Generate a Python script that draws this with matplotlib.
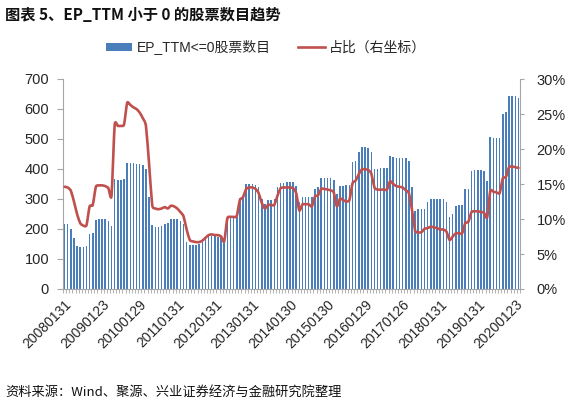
import matplotlib
matplotlib.use('Agg')
import matplotlib.pyplot as plt
from matplotlib.patches import Patch
from matplotlib.lines import Line2D
from matplotlib.path import Path
from matplotlib.patches import PathPatch
from matplotlib.ticker import FuncFormatter, MultipleLocator, FixedLocator
import matplotlib.transforms as mtransforms
import numpy as np

plt.rcParams['font.family'] = ['Liberation Sans', 'Noto Sans CJK SC', 'DejaVu Sans']

title = '图表 5、EP_TTM 小于 0 的股票数目趋势'
source = '资料来源：Wind、聚源、兴业证券经济与金融研究院整理'
bar_label = 'EP_TTM<=0股票数目'
line_label = '占比（右坐标）'

tick_labels = ['20080131', '20090123', '20100129', '20110131', '20120131',
               '20130131', '20140130', '20150130', '20160129', '20170126',
               '20180131', '20190131', '20200123']

counts = [217, 217, 200, 170, 142, 140, 140, 143, 182, 186, 231, 232,
          232, 232, 228, 210, 366, 363, 363, 368, 420, 420, 419, 418,
          417, 412, 399, 308, 213, 208, 208, 211, 217, 219, 232, 234,
          234, 228, 217, 158, 147, 147, 147, 150, 158, 169, 177, 177,
          177, 174, 172, 158, 232, 239, 239, 241, 305, 310, 349, 350,
          350, 348, 340, 300, 285, 297, 297, 300, 340, 352, 355, 358,
          358, 356, 345, 290, 306, 306, 306, 306, 335, 341, 369, 370,
          370, 369, 365, 318, 344, 345, 346, 347, 424, 428, 458, 473,
          473, 470, 456, 400, 401, 402, 402, 404, 445, 439, 438, 438,
          438, 437, 427, 341, 260, 266, 266, 266, 289, 300, 301, 301,
          301, 300, 289, 241, 249, 277, 279, 279, 333, 333, 395, 397,
          397, 396, 392, 359, 506, 505, 505, 503, 582, 591, 644, 643,
          643, 638]

ratio = [14.6, 14.5, 14.05, 12.5, 10.7, 9.4, 9.05, 9.1, 11.8, 12.0, 14.6, 14.8,
         14.8, 14.7, 14.4, 13.3, 23.4, 23.3, 23.3, 23.5, 26.6, 26.3, 25.95, 25.7,
         25.2, 24.4, 23.3, 17.9, 12.0, 11.5, 11.4, 11.5, 11.7, 11.5, 11.9, 11.8,
         11.5, 11.0, 10.4, 8.5, 7.0, 6.8, 6.7, 6.7, 6.9, 7.3, 7.7, 7.8,
         7.7, 7.7, 7.5, 6.8, 10.1, 10.3, 10.3, 10.4, 12.7, 13.1, 14.3, 14.5,
         14.5, 14.3, 13.7, 12.3, 11.5, 12.0, 12.0, 12.0, 13.3, 14.4, 14.5, 14.5,
         14.5, 14.4, 13.7, 11.2, 12.1, 12.1, 12.1, 11.8, 13.2, 13.4, 14.3, 14.3,
         14.2, 14.1, 13.8, 11.8, 12.9, 12.7, 12.5, 12.7, 15.1, 15.5, 16.4, 17.1,
         17.1, 17.0, 16.5, 14.5, 14.2, 14.2, 14.2, 14.2, 15.4, 15.0, 14.7, 14.6,
         14.5, 14.1, 13.7, 11.3, 8.3, 8.1, 8.1, 8.6, 8.7, 8.9, 8.8, 8.7,
         8.5, 8.5, 8.2, 7.0, 7.5, 7.95, 7.95, 7.95, 9.4, 9.6, 11.0, 11.1,
         11.1, 11.0, 10.9, 10.2, 14.0, 13.9, 13.8, 13.7, 15.8, 16.0, 17.4, 17.5,
         17.4, 17.3]

BAR_C = '#4a7ebb'
LINE_C = '#c0504d'
AX_C = '#a6a6a6'
TXT_C = '#262626'

N = len(counts)
x = np.arange(N)

W, H = 572, 407
fig = plt.figure(figsize=(W / 100, H / 100), dpi=100)
ax = fig.add_axes([63 / W, 1 - 289 / H, 457 / W, 210 / H])
ax.bar(x, counts, width=0.5, color=BAR_C, linewidth=0, zorder=2)
ax.set_xlim(-0.5, N - 0.5)
ax.set_ylim(0, 700)
ax.yaxis.set_major_locator(MultipleLocator(100))

ax2 = ax.twinx()
ax2.set_ylim(0, 30)

# smoothed line (Excel-style): cubic Bezier segments through the data points
px = x.astype(float)
py = np.asarray(ratio, dtype=float)
k = 0.1
verts = [(px[0], py[0])]
codes = [Path.MOVETO]
for j in range(N - 1):
    p0x, p0y = (px[j - 1], py[j - 1]) if j > 0 else (px[j], py[j])
    p3x, p3y = (px[j + 2], py[j + 2]) if j + 2 < N else (px[j + 1], py[j + 1])
    c1 = (px[j] + (px[j + 1] - p0x) * k, py[j] + (py[j + 1] - p0y) * k)
    c2 = (px[j + 1] - (p3x - px[j]) * k, py[j + 1] - (p3y - py[j]) * k)
    verts += [c1, c2, (px[j + 1], py[j + 1])]
    codes += [Path.CURVE4, Path.CURVE4, Path.CURVE4]
ax2.add_patch(PathPatch(Path(verts, codes), facecolor='none', edgecolor=LINE_C,
                        lw=1.9, joinstyle='round', capstyle='round', zorder=3))

ax2.yaxis.set_major_locator(MultipleLocator(5))
ax2.yaxis.set_major_formatter(FuncFormatter(lambda v, p: f'{v:.0f}%'))

for a in (ax, ax2):
    a.spines['top'].set_visible(False)
    for s in ('left', 'right', 'bottom'):
        a.spines[s].set_color(AX_C)
        a.spines[s].set_linewidth(0.8)

ax.spines['right'].set_visible(False)
ax2.spines['left'].set_visible(False)
ax2.spines['bottom'].set_visible(False)

ax.set_xticks(range(0, N, 12))
ax.set_xticklabels(tick_labels[:len(range(0, N, 12))], rotation=45, ha='right',
                   va='top', rotation_mode='anchor', fontsize=10, color=TXT_C)
shift = mtransforms.ScaledTranslation(3 / 100, 0, fig.dpi_scale_trans)
for lab in ax.get_xticklabels():
    lab.set_transform(lab.get_transform() + shift)
ax.xaxis.set_minor_locator(FixedLocator(np.arange(-0.5, N, 1)))
ax.tick_params(axis='x', which='major', length=0, pad=6)
ax.tick_params(axis='x', which='minor', length=3, color=AX_C, width=0.6)
ax.tick_params(axis='y', length=4, color=AX_C, width=0.8, pad=6,
               labelsize=10.5, labelcolor=TXT_C)
ax2.tick_params(axis='y', length=3, color=AX_C, width=0.8, pad=9,
                labelsize=10.5, labelcolor=TXT_C)

ax.set_zorder(1)
ax2.set_zorder(2)
ax.patch.set_visible(False)

handles = [Patch(facecolor=BAR_C, edgecolor='none'),
           Line2D([0], [0], color=LINE_C, lw=1.9)]
fig.legend(handles, [bar_label, line_label], loc='center',
           bbox_to_anchor=(266 / W, 1 - 47 / H), ncol=2, frameon=False,
           fontsize=10, handlelength=1.9, handleheight=0.5,
           handletextpad=0.3, columnspacing=2.0, labelcolor=TXT_C)

fig.text(5 / W, 1 - 15 / H, title, fontsize=11, fontweight='bold',
         ha='left', va='center', color='#111111',
         family=['Noto Sans CJK SC', 'DejaVu Sans'])
fig.text(5 / W, 1 - 392 / H, source, fontsize=9.5, ha='left', va='center',
         color='#111111', family=['Noto Sans CJK SC', 'DejaVu Sans'])

fig.savefig('out.png', dpi=100)
